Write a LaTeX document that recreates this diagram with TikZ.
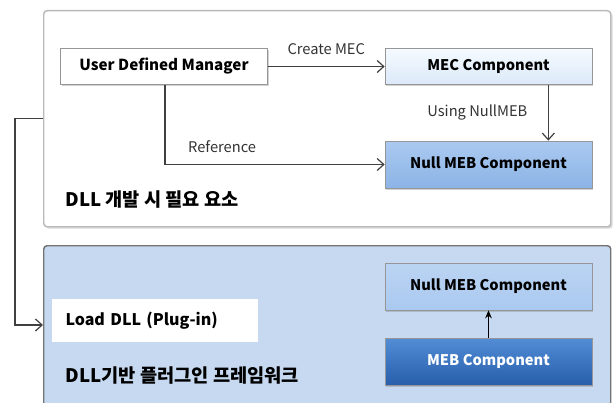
\documentclass[tikz,border=0pt]{standalone}
\usepackage{fontspec}
\setmainfont{Noto Sans CJK KR}
\usetikzlibrary{arrows.meta,shadows}

\definecolor{panelblue}{RGB}{198,217,241}
\definecolor{mectop}{RGB}{245,250,255}
\definecolor{mecbot}{RGB}{220,233,249}
\definecolor{nulltop}{RGB}{170,201,240}
\definecolor{nullbot}{RGB}{140,180,230}
\definecolor{mebtop}{RGB}{82,141,214}
\definecolor{mebbot}{RGB}{40,94,170}
\definecolor{edgegray}{RGB}{150,150,150}

\tikzset{every picture/.style={line width=0.75pt}}
\tikzset{
  panel/.style={draw, rounded corners=2.5pt, line width=1.1pt, anchor=north west, inner sep=0pt},
  compbox/.style={draw=edgegray, line width=0.5pt, minimum width=155.25pt, font=\fontsize{11}{13}\selectfont\bfseries,
    drop shadow={opacity=0.35, shadow xshift=1pt, shadow yshift=-1.2pt}},
  conn/.style={draw=black!75, line width=0.9pt, -{Straight Barb[length=5pt,width=9pt]}},
  lbl/.style={font=\fontsize{11}{13}\selectfont, text=black!80},
  paneltitle/.style={anchor=west, inner sep=0pt, font=\fontsize{14}{16}\selectfont\bfseries}
}

\begin{document}
\begin{tikzpicture}[x=0.75pt,y=0.75pt,yscale=-1,xscale=1]
	\useasboundingbox (0,0) rectangle (614,403);

	% panels
	\node[panel, draw=black!27, fill=white, minimum width=425.25pt, minimum height=162pt,
	  drop shadow={opacity=0.3, shadow xshift=1.5pt, shadow yshift=-1.5pt}] (devpanel) at (43,10) {};
	\node[panel, draw=black!55, fill=panelblue, minimum width=425.25pt, minimum height=130pt] (fwpanel) at (43,245) {};

	% components of the DLL
	\node[compbox, minimum height=27pt, fill=white, font=\fontsize{11.4}{13}\selectfont\bfseries] (manager) at (164,66.5) {User Defined Manager};
	\node[compbox, minimum height=27pt, top color=mectop, bottom color=mecbot] (mec) at (488.5,66.5) {MEC Component};
	\node[compbox, minimum height=35.25pt, top color=nulltop, bottom color=nullbot] (nullmeb) at (488.5,164.5) {Null MEB Component};

	% plug-in framework
	\node[compbox, minimum height=35.25pt, top color=nulltop!80!white, bottom color=nulltop] (nullmebfw) at (488.5,286.5) {Null MEB Component};
	\node[compbox, minimum height=35.25pt, top color=mebtop, bottom color=mebbot, text=white] (meb) at (488.5,361.5) {MEB Component};
	\node[fill=white, anchor=west, minimum height=32.25pt, text width=133.5pt, inner xsep=10.5pt, align=left,
	  font=\fontsize{12}{14}\selectfont\bfseries] (loaddll) at (51,320.5) {Load DLL (Plug-in)};

	% titles
	\node[paneltitle] (devtitle) at (65,200) {DLL 개발 시 필요 요소};
	\node[paneltitle] (fwtitle) at (65,376) {DLL기반 플러그인 프레임워크};

	% connectors
	\draw[conn] (manager) -- (mec) node[lbl, midway, above=5pt] {Create MEC};
	\draw[conn] ([xshift=-33pt]mec.south east) -- ([xshift=-33pt]nullmeb.north east)
	  node[lbl, midway, left=12pt] {Using NullMEB};
	\draw[conn] ([xshift=0.75pt]manager.south) |- (nullmeb.west) node[lbl, pos=0.63, above=5pt] {Reference};
	\draw[line width=0.9pt, -{Stealth[length=6pt,width=5pt]}] (meb) -- (nullmebfw);
	\coordinate (fwin) at (43,325);
	\draw[conn] (devpanel.west) -- ++(-28,0) |- (fwin);

\end{tikzpicture}
\end{document}
